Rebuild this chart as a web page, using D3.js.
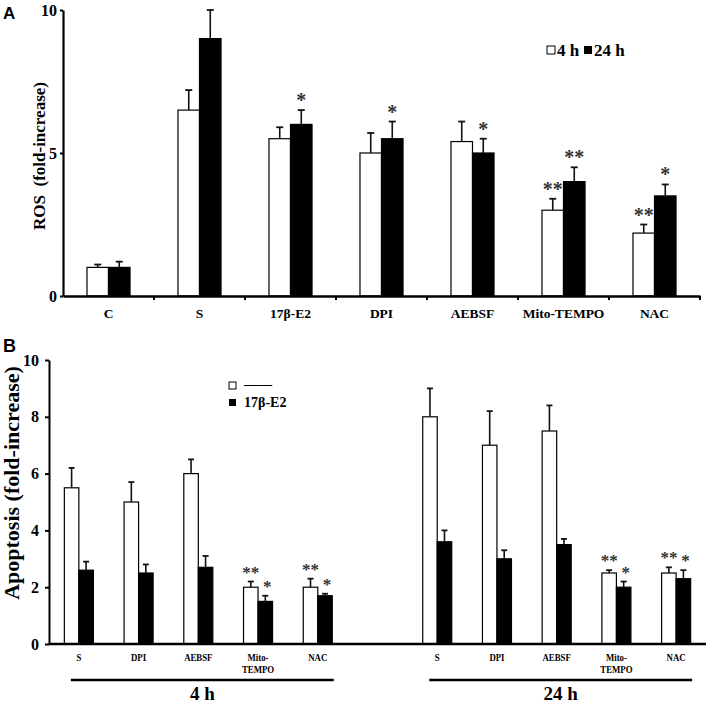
<!DOCTYPE html>
<html><head><meta charset="utf-8">
<script src="https://cdn.jsdelivr.net/npm/d3@7"></script>
<style>body{margin:0;background:#fff} svg{display:block}
.ytk text{font-family:'Liberation Serif','Times New Roman',serif;font-weight:bold;font-size:16px;fill:#000}</style>
</head><body><svg id="c" width="709" height="704"></svg>
<script>
// ---------- Panel A data ----------
const rosCategories = ["C","S","17β-E2","DPI","AEBSF","Mito-TEMPO","NAC"];
const rosSeries = ["4 h","24 h"];
const ros4h     = [1.0,6.5,5.5,5.0,5.4,3.0,2.2];
const ros4hErr  = [0.1,0.7,0.4,0.7,0.7,0.4,0.3];
const ros24h    = [1.0,9.0,6.0,5.5,5.0,4.0,3.5];
const ros24hErr = [0.2,1.0,0.5,0.6,0.5,0.5,0.4];
const rosSig4h  = ["","","","","","**","**"];
const rosSig24h = ["","","*","*","*","**","*"];
const rosTicks  = [0,5,10];

// ---------- Panel B data ----------
const apopTreatments = ["S","DPI","AEBSF","Mito-TEMPO","NAC"];
const apopTimes = ["4 h","24 h"];
const apopSeries = ["—","17β-E2"];
const apopCtrl4h     = [5.5,5.0,6.0,2.0,2.0];
const apopCtrl4hErr  = [0.7,0.7,0.5,0.2,0.3];
const apopE2_4h      = [2.6,2.5,2.7,1.5,1.7];
const apopE2_4hErr   = [0.3,0.3,0.4,0.2,0.07];
const apopCtrl24h    = [8.0,7.0,7.5,2.5,2.5];
const apopCtrl24hErr = [1.0,1.2,0.9,0.1,0.2];
const apopE2_24h     = [3.6,3.0,3.5,2.0,2.3];
const apopE2_24hErr  = [0.4,0.3,0.2,0.2,0.3];
const apopSigCtrl = ["","","","**","**"];
const apopSigE2   = ["","","","*","*"];
const apopTicks = [0,2,4,6,8,10];

const SERIF = "'Liberation Serif','Times New Roman',serif";
const SANS = "'Liberation Sans',Arial,sans-serif";
const svg = d3.select("#c");

function errBar(g, cx, yTop, yErr, cap){
  g.append("line").attr("x1",cx).attr("x2",cx).attr("y1",yTop).attr("y2",yErr)
   .attr("stroke","#111").attr("stroke-width",1.6);
  g.append("line").attr("x1",cx-cap/2).attr("x2",cx+cap/2).attr("y1",yErr).attr("y2",yErr)
   .attr("stroke","#111").attr("stroke-width",1.8);
}
function styleYAxis(ax, sw){
  ax.attr("class","ytk").attr("font-family",SERIF).attr("font-size",16).attr("font-weight","bold");
  ax.select(".domain").attr("stroke","#000").attr("stroke-width",sw);
  ax.selectAll(".tick line").attr("stroke","#000").attr("stroke-width",2);
  ax.selectAll(".tick text").attr("fill","#000");
}

// ================= Panel A =================
(function(){
  const L=63, R=700, T=10, B=296;
  const y = d3.scaleLinear().domain([0,10]).range([B,T]);
  const x0 = d3.scaleBand().domain(rosCategories).range([L,R]).paddingInner(0.527).paddingOuter(0.2635);
  const x1 = d3.scaleBand().domain(rosSeries).range([0,x0.bandwidth()]);
  const g = svg.append("g");
  const vals = [ros4h, ros24h], errs=[ros4hErr, ros24hErr], sigs=[rosSig4h, rosSig24h];
  const fills = ["#fff","#000"];

  rosCategories.forEach((c,i)=>{
    rosSeries.forEach((s,j)=>{
      const bx = x0(c)+x1(s), bw = x1.bandwidth();
      const v = vals[j][i], e = errs[j][i];
      g.append("rect").attr("x",bx).attr("y",y(v)).attr("width",bw).attr("height",y(0)-y(v))
        .attr("fill",fills[j]).attr("stroke","#000").attr("stroke-width",1.2);
      errBar(g, bx+bw/2, y(v), y(v+e), 7);
      if(sigs[j][i]) g.append("text").attr("x",bx+bw/2).attr("y",y(v+e)-3)
        .attr("text-anchor","middle").style("font-family",SERIF).style("font-weight","bold").style("font-size","20px")
        .attr("fill","#333").text(sigs[j][i]);
    });
  });

  // y axis
  const ya = g.append("g").attr("transform",`translate(${L},0)`)
    .call(d3.axisLeft(y).tickValues(rosTicks).tickSize(3).tickSizeOuter(0).tickPadding(3));
  styleYAxis(ya, 2.2);

  // x axis
  const xa = g.append("g").attr("transform",`translate(0,${B})`)
    .call(d3.axisBottom(x0).tickSize(0).tickPadding(12));
  xa.select(".domain").attr("stroke","#000").attr("stroke-width",2.6);
  xa.selectAll(".tick text").style("font-family",SERIF).style("font-weight","bold").style("font-size","13.5px").attr("fill","#000");
  // boundary ticks between categories
  const half = x0.paddingInner()*x0.step()/2;
  const bounds = rosCategories.slice(1).map(c=>x0(c)-half).concat([R]);
  g.selectAll(".bt").data(bounds).enter().append("line")
    .attr("x1",d=>d).attr("x2",d=>d).attr("y1",B).attr("y2",B+4)
    .attr("stroke","#000").attr("stroke-width",2);

  // y title
  g.append("text").attr("transform",`translate(45,${(T+B)/2+3}) rotate(-90)`)
    .attr("text-anchor","middle").style("font-family",SERIF).style("font-weight","bold").style("font-size","17px")
    .style("white-space","pre").text("ROS  (fold-increase)");

  // legend
  const lg = g.append("g").attr("transform","translate(547,50)");
  lg.append("rect").attr("x",0).attr("y",-4).attr("width",8).attr("height",8).attr("fill","#fff").attr("stroke","#000").attr("stroke-width",1);
  lg.append("text").attr("x",10).attr("y",6).style("font-family",SERIF).style("font-weight","bold").style("font-size","17px").text(rosSeries[0]);
  lg.append("rect").attr("x",37).attr("y",-4).attr("width",8).attr("height",8).attr("fill","#000");
  lg.append("text").attr("x",47).attr("y",6).style("font-family",SERIF).style("font-weight","bold").style("font-size","17px").text(rosSeries[1]);

  svg.append("text").attr("x",3).attr("y",19).style("font-family",SANS).style("font-weight","bold").style("font-size","17px").text("A");
})();

// ================= Panel B =================
(function(){
  const L=49, R=706, T=360, B=644;
  const y = d3.scaleLinear().domain([0,10]).range([B,T]);
  const slots = [...apopTreatments.map(t=>apopTimes[0]+"|"+t),"gap",...apopTreatments.map(t=>apopTimes[1]+"|"+t)];
  const x0 = d3.scaleBand().domain(slots).range([L,R]).paddingInner(0.514).paddingOuter(0.257);
  const x1 = d3.scaleBand().domain(apopSeries).range([0,x0.bandwidth()]);
  const g = svg.append("g");
  const data = [
    {time:apopTimes[0], vals:[apopCtrl4h,apopE2_4h], errs:[apopCtrl4hErr,apopE2_4hErr]},
    {time:apopTimes[1], vals:[apopCtrl24h,apopE2_24h], errs:[apopCtrl24hErr,apopE2_24hErr]}
  ];
  const sigs=[apopSigCtrl,apopSigE2], fills=["#fff","#000"];
  data.forEach(d=>{
    apopTreatments.forEach((t,i)=>{
      const key = d.time+"|"+t;
      apopSeries.forEach((s,j)=>{
        const bx=x0(key)+x1(s), bw=x1.bandwidth();
        const v=d.vals[j][i], e=d.errs[j][i];
        g.append("rect").attr("x",bx).attr("y",y(v)).attr("width",bw).attr("height",y(0)-y(v))
          .attr("fill",fills[j]).attr("stroke","#000").attr("stroke-width",1.2);
        errBar(g, bx+bw/2, y(v), y(v+e), 6);
        if(sigs[j][i]) g.append("text").attr("x",bx+bw/2 + (j===1?2:0)).attr("y",y(v+e)-4)
          .attr("text-anchor","middle").style("font-family",SERIF).style("font-weight","bold").style("font-size","17px")
          .attr("fill","#333").text(sigs[j][i]);
      });
      // category label
      const cx = x0(key)+x0.bandwidth()/2;
      const parts = t.includes("-") && t.length>6 ? [t.split("-")[0]+"-", t.split("-")[1]] : [t];
      parts.forEach((p,k)=>{
        g.append("text").attr("transform",`translate(${cx},${B+17+k*12}) scale(0.8,1)`)
          .attr("text-anchor","middle").style("font-family",SERIF).style("font-weight","bold").style("font-size","11px").text(p);
      });
    });
    // group underline + time label
    const x1s = x0(d.time+"|"+apopTreatments[0])+x0.bandwidth()/2-8;
    const x2s = x0(d.time+"|"+apopTreatments[apopTreatments.length-1])+x0.bandwidth()/2+16;
    g.append("line").attr("x1",x1s).attr("x2",x2s).attr("y1",B+36).attr("y2",B+36).attr("stroke","#000").attr("stroke-width",2.5);
    g.append("text").attr("x",(x1s+x2s)/2).attr("y",B+56).attr("text-anchor","middle")
      .style("font-family",SERIF).style("font-weight","bold").style("font-size","19px").text(d.time);
  });

  const ya = g.append("g").attr("transform",`translate(${L},0)`)
    .call(d3.axisLeft(y).tickValues(apopTicks).tickSize(4).tickSizeOuter(0).tickPadding(6));
  styleYAxis(ya, 2);
  g.append("line").attr("x1",L).attr("x2",R).attr("y1",B).attr("y2",B).attr("stroke","#000").attr("stroke-width",2.6);

  g.append("text").attr("transform",`translate(19,483) rotate(-90)`)
    .attr("text-anchor","middle").style("font-family",SERIF).style("font-weight","bold").style("font-size","22px")
    .text("Apoptosis (fold-increase)");

  // legend
  const lg = g.append("g").attr("transform","translate(229,385)");
  lg.append("rect").attr("x",0).attr("y",-3).attr("width",7).attr("height",7).attr("fill","#fff").attr("stroke","#000").attr("stroke-width",1);
  lg.append("text").attr("x",15).attr("y",4).style("font-family",SERIF).style("font-weight","bold").style("font-size","14px").text(apopSeries[0]+apopSeries[0]);
  lg.append("rect").attr("x",0).attr("y",14).attr("width",7).attr("height",7).attr("fill","#000");
  lg.append("text").attr("x",15).attr("y",22).style("font-family",SERIF).style("font-weight","bold").style("font-size","14px").text(apopSeries[1]);

  svg.append("text").attr("x",3).attr("y",352).style("font-family",SANS).style("font-weight","bold").style("font-size","18px").text("B");
})();
</script></body></html>
